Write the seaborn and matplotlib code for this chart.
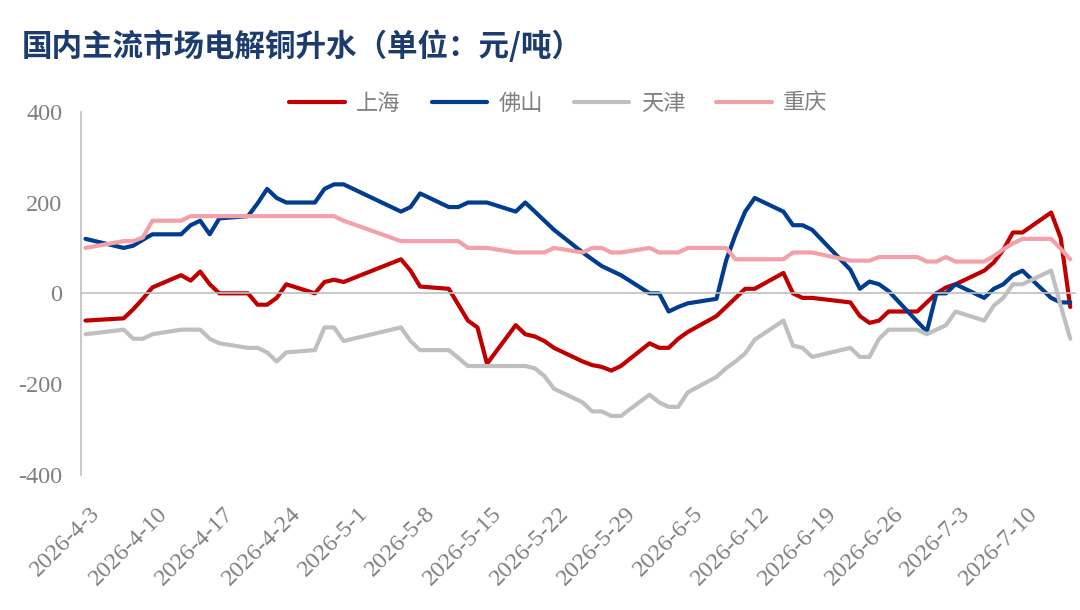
import matplotlib
matplotlib.use("Agg")
import matplotlib.pyplot as plt
import matplotlib.dates as mdates
import matplotlib.transforms as mtransforms
from matplotlib.lines import Line2D
import seaborn as sns
import pandas as pd

# ---------------- data ----------------
dates = [
    "2026-04-03", "2026-04-07", "2026-04-08", "2026-04-09", "2026-04-10",
    "2026-04-13", "2026-04-14", "2026-04-15", "2026-04-16", "2026-04-17",
    "2026-04-20", "2026-04-21", "2026-04-22", "2026-04-23", "2026-04-24",
    "2026-04-27", "2026-04-28", "2026-04-29", "2026-04-30",
    "2026-05-06", "2026-05-07", "2026-05-08",
    "2026-05-11", "2026-05-12", "2026-05-13", "2026-05-14", "2026-05-15",
    "2026-05-18", "2026-05-19", "2026-05-20", "2026-05-21", "2026-05-22",
    "2026-05-25", "2026-05-26", "2026-05-27", "2026-05-28", "2026-05-29",
    "2026-06-01", "2026-06-02", "2026-06-03", "2026-06-04", "2026-06-05",
    "2026-06-08", "2026-06-09", "2026-06-10", "2026-06-11", "2026-06-12",
    "2026-06-15", "2026-06-16", "2026-06-17", "2026-06-18",
    "2026-06-22", "2026-06-23", "2026-06-24", "2026-06-25", "2026-06-26",
    "2026-06-29", "2026-06-30", "2026-07-01", "2026-07-02", "2026-07-03",
    "2026-07-06", "2026-07-07", "2026-07-08", "2026-07-09", "2026-07-10",
    "2026-07-13", "2026-07-14", "2026-07-15",
]

shanghai = [
    -60, -55, -35, -12, 13,
    40, 28, 48, 20, 0,
    0, -25, -25, -10, 20,
    0, 25, 30, 25,
    75, 50, 15,
    10, -25, -60, -75, -155,
    -70, -90, -95, -105, -120,
    -150, -158, -162, -170, -160,
    -110, -120, -120, -100, -85,
    -50, -30, -10, 10, 10,
    45, 0, -10, -10,
    -20, -50, -65, -60, -40,
    -40, -20, 0, 13, 20,
    50, 68, 96, 134, 134,
    178, 122, -30,
]

foshan = [
    120, 100, 105, 118, 130,
    130, 150, 160, 130, 165,
    170, 198, 230, 210, 200,
    200, 230, 240, 240,
    180, 190, 220,
    190, 190, 200, 200, 200,
    180, 200, 180, 160, 140,
    90, 75, 60, 50, 40,
    0, 0, -40, -30, -22,
    -12, 72, 130, 180, 210,
    180, 150, 150, 140,
    52, 10, 26, 20, 5,
    -62, -84, 0, 0, 20,
    -10, 10, 20, 40, 50,
    -10, -20, -20,
]

tianjin = [
    -90, -80, -100, -100, -90,
    -80, -80, -80, -100, -110,
    -120, -120, -130, -150, -130,
    -125, -75, -75, -105,
    -75, -105, -125,
    -125, -142, -160, -160, -160,
    -160, -160, -165, -182, -210,
    -240, -260, -260, -270, -270,
    -223, -240, -250, -250, -218,
    -184, -165, -150, -132, -102,
    -60, -115, -120, -140,
    -120, -140, -140, -100, -80,
    -80, -90, -80, -70, -40,
    -60, -27, -10, 20, 20,
    50, -27, -100,
]

chongqing = [
    100, 115, 115, 123, 160,
    160, 170, 170, 170, 170,
    170, 170, 170, 170, 170,
    170, 170, 170, 160,
    115, 115, 115,
    115, 115, 100, 100, 100,
    90, 90, 90, 90, 100,
    90, 100, 100, 90, 90,
    100, 90, 90, 90, 100,
    100, 100, 75, 75, 75,
    75, 90, 90, 90,
    72, 72, 72, 80, 80,
    80, 70, 70, 80, 70,
    70, 82, 97, 110, 120,
    120, 98, 75,
]

cities = ["上海", "佛山", "天津", "重庆"]
colors = ["#C00000", "#003C8F", "#BFBFBF", "#F4A0A9"]

tick_dates = [
    "2026-04-03", "2026-04-10", "2026-04-17", "2026-04-24", "2026-05-01",
    "2026-05-08", "2026-05-15", "2026-05-22", "2026-05-29", "2026-06-05",
    "2026-06-12", "2026-06-19", "2026-06-26", "2026-07-03", "2026-07-10",
]
tick_labels = [
    "2026-4-3", "2026-4-10", "2026-4-17", "2026-4-24", "2026-5-1",
    "2026-5-8", "2026-5-15", "2026-5-22", "2026-5-29", "2026-6-5",
    "2026-6-12", "2026-6-19", "2026-6-26", "2026-7-3", "2026-7-10",
]
y_ticks = [-400, -200, 0, 200, 400]
title = "国内主流市场电解铜升水（单位：元/吨）"

# ---------------- build frame ----------------
wide = pd.DataFrame({
    "date": pd.to_datetime(dates),
    "上海": shanghai,
    "佛山": foshan,
    "天津": tianjin,
    "重庆": chongqing,
})
df = wide.melt(id_vars="date", var_name="city", value_name="value")
# points are drawn in the middle of each day's slot on the date axis
df["x"] = df["date"] + pd.Timedelta(hours=12)

# ---------------- style ----------------
sns.set_theme(style="white")
plt.rcParams["font.family"] = ["Noto Sans CJK SC", "DejaVu Sans"]
plt.rcParams["axes.unicode_minus"] = False

GRAY_AX = "#BFBFBF"
GRAY_TXT = "#808080"

fig = plt.figure(figsize=(10.8, 6.1), dpi=100)
ax = fig.add_axes([0.0747, 0.2213, 0.9207, 0.5956])

sns.lineplot(
    data=df, x="x", y="value", hue="city", hue_order=cities,
    palette=colors, linewidth=3, estimator=None, legend=False, ax=ax,
)
for ln in ax.get_lines():
    ln.set_solid_joinstyle("round")

ax.set_xlim(mdates.date2num(pd.Timestamp("2026-04-03")),
            mdates.date2num(pd.Timestamp("2026-07-16")))
ax.set_ylim(-400, 400)
ax.set_yticks(y_ticks)
ax.set_yticklabels([str(v) for v in y_ticks], fontfamily="Liberation Serif",
                   fontsize=17.5, color=GRAY_TXT)

tick_nums = [mdates.date2num(pd.Timestamp(d)) for d in tick_dates]
ax.set_xticks(tick_nums)
ax.tick_params(axis="x", direction="out", length=7, width=1.2,
               color=GRAY_AX, labelbottom=False)
ax.tick_params(axis="y", direction="out", length=7, width=1.2,
               color=GRAY_AX, pad=6)

ax.set_xlabel("")
ax.set_ylabel("")
for side in ["top", "right"]:
    ax.spines[side].set_visible(False)
ax.spines["left"].set_color(GRAY_AX)
ax.spines["left"].set_linewidth(1.2)
ax.spines["bottom"].set_color(GRAY_AX)
ax.spines["bottom"].set_linewidth(1.2)
ax.spines["bottom"].set_position(("data", 0))
ax.grid(False)

# rotated date labels below the plot area
base = mtransforms.blended_transform_factory(ax.transData, ax.transAxes)
lab_tr = mtransforms.offset_copy(base, fig=fig, x=9, y=-28, units="dots")
for t, lab in zip(tick_nums, tick_labels):
    ax.text(t, 0, lab, transform=lab_tr, rotation=45, rotation_mode="anchor",
            ha="right", va="top", fontsize=17.5, fontfamily="Liberation Serif",
            color=GRAY_TXT, clip_on=False)

# legend
handles = [Line2D([0], [0], color=c, lw=3) for c in colors]
leg = ax.legend(
    handles, cities, loc="center", bbox_to_anchor=(0.517, 0.831),
    bbox_transform=fig.transFigure, ncol=4, frameon=False,
    handlelength=2.5, handletextpad=0.5, columnspacing=1.4,
    prop={"family": ["Noto Sans CJK SC", "DejaVu Sans"], "size": 16},
)
for txt in leg.get_texts():
    txt.set_color(GRAY_TXT)

# title
fig.text(0.02, 0.923, title, ha="left", va="center", fontsize=22,
         fontweight="bold", color="#1D3C6E",
         fontfamily=["Noto Sans CJK SC", "DejaVu Sans"])

fig.savefig("out.png", dpi=100)
